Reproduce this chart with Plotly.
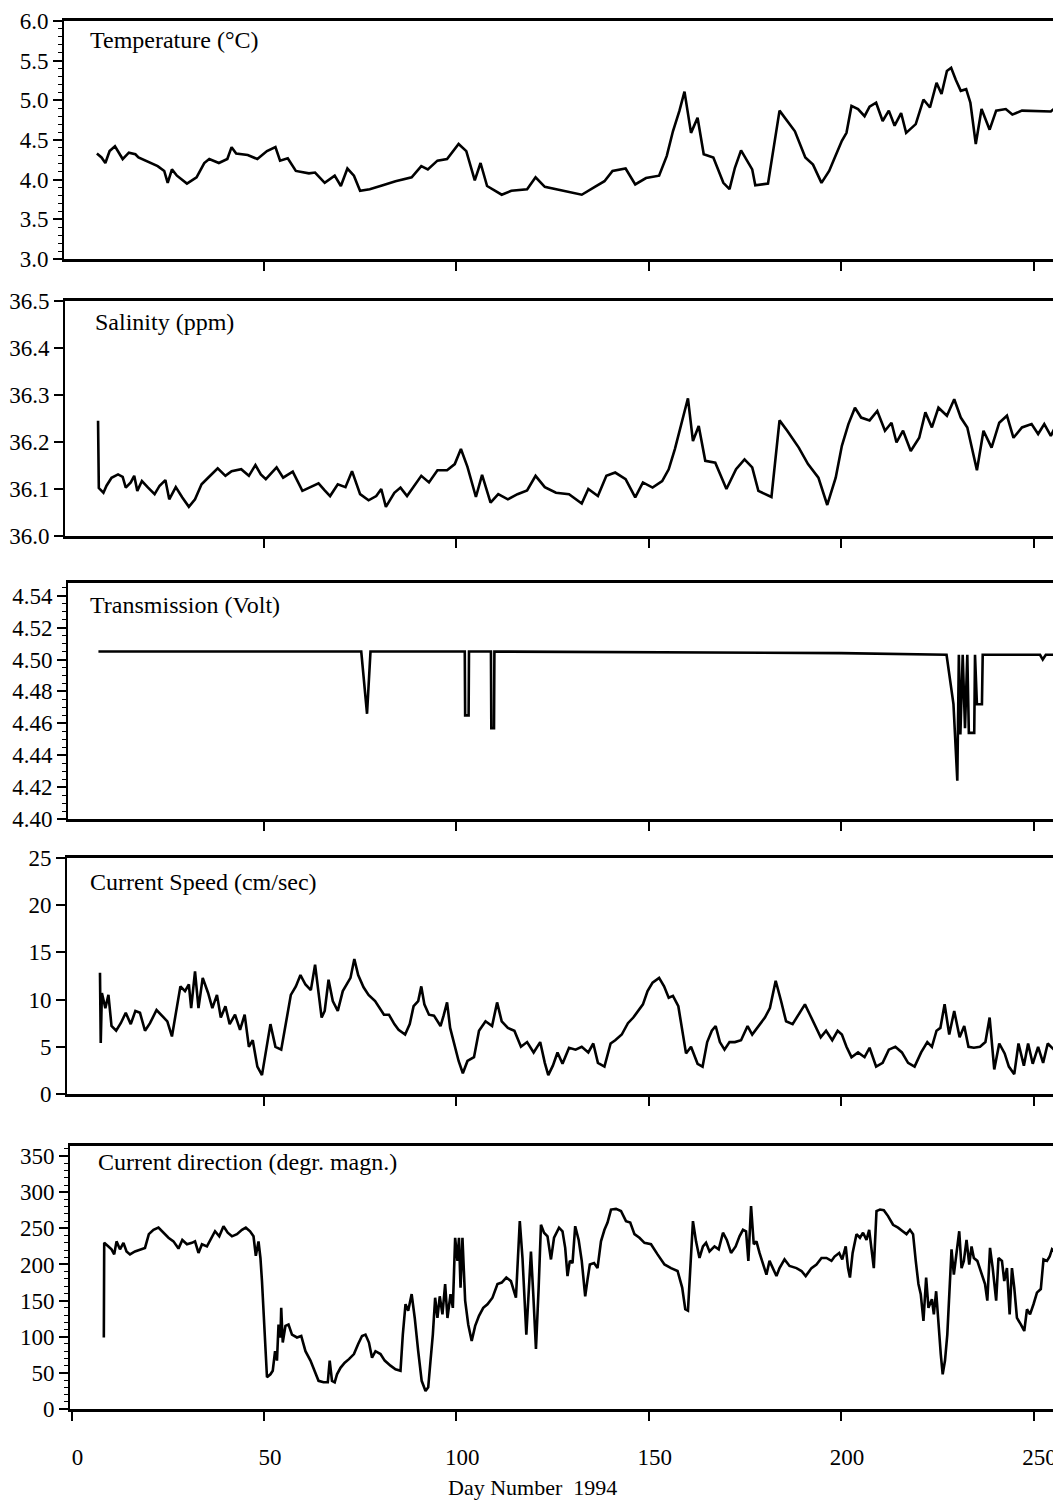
"""
Mooring record 1994: temperature, salinity, transmission, current speed and direction
against day number, five stacked panels sharing the same day scale.
"""

import plotly.graph_objects as go

# ---- data ---------------------------------------------------------------------
temp_day = [6.6, 7.8, 8.8, 9.9, 11.3, 13.3, 14.9, 16.6, 17.4, 19.1, 22.4, 24.1, 25.0, 26.1,
            27.4, 30.0, 32.5, 34.5, 35.8, 38.3, 40.5, 41.6, 42.8, 45.8, 48.3, 50.8, 53.0,
            54.2, 56.2, 58.3, 61.7, 63.3, 65.8, 68.4, 70.0, 71.7, 73.4, 75.0, 77.5, 80.9,
            84.2, 88.4, 90.9, 92.6, 95.1, 97.6, 100.6, 102.6, 104.8, 106.3, 108.0, 111.8,
            114.3, 118.4, 120.6, 123.0, 127.6, 132.6, 136.0, 138.5, 140.6, 144.0, 146.5,
            149.3, 152.7, 154.7, 156.3, 158.0, 159.3, 161.0, 162.7, 164.3, 166.8, 169.4,
            171.0, 172.4, 174.0, 176.9, 177.7, 181.0, 184.0, 186.0, 188.0, 190.7, 192.7,
            194.9, 196.9, 198.2, 200.2, 201.4, 202.7, 204.4, 206.1, 207.4, 209.1, 210.8,
            212.4, 213.9, 215.6, 216.9, 219.4, 221.4, 223.1, 224.8, 226.1, 227.5, 228.6,
            229.8, 231.1, 232.5, 233.6, 235.0, 236.5, 238.6, 240.3, 242.8, 244.5, 247.0,
            251.2, 254.5, 256.2]
temp_val = [4.33, 4.28, 4.21, 4.36, 4.42, 4.26, 4.34, 4.32, 4.28, 4.24, 4.17, 4.11, 3.96, 4.13,
            4.05, 3.95, 4.03, 4.21, 4.26, 4.21, 4.26, 4.41, 4.33, 4.31, 4.26, 4.36, 4.41,
            4.24, 4.27, 4.11, 4.08, 4.09, 3.96, 4.05, 3.92, 4.14, 4.05, 3.86, 3.88, 3.93,
            3.98, 4.03, 4.17, 4.13, 4.24, 4.26, 4.45, 4.36, 3.99, 4.21, 3.92, 3.81,
            3.86, 3.88, 4.03, 3.91, 3.86, 3.81, 3.91, 3.98, 4.11, 4.14, 3.94,
            4.02, 4.05, 4.30, 4.61, 4.87, 5.11, 4.59, 4.78, 4.32, 4.28, 3.96,
            3.88, 4.15, 4.37, 4.13, 3.93, 3.95, 4.87, 4.74, 4.61, 4.28, 4.19,
            3.96, 4.11, 4.26, 4.49, 4.59, 4.93, 4.89, 4.80, 4.92, 4.97, 4.74,
            4.87, 4.68, 4.84, 4.59, 4.70, 5.01, 4.91, 5.22, 5.08, 5.37, 5.41,
            5.26, 5.12, 5.14, 4.97, 4.45, 4.89, 4.63, 4.87, 4.89, 4.82, 4.87,
            4.86, 4.86, 4.93]

sal_day = [6.9, 7.1, 8.3, 9.1, 10.4, 12.1, 13.3, 14.1, 15.4, 16.3, 17.1, 18.3, 19.9, 21.6,
           22.9, 24.4, 25.4, 27.1, 28.8, 30.5, 32.1, 33.8, 35.5, 38.0, 40.0, 41.6, 44.1,
           46.1, 47.8, 49.2, 50.5, 53.3, 55.0, 57.5, 60.0, 62.2, 64.2, 65.8, 67.2, 69.2,
           71.2, 72.9, 75.0, 77.2, 79.2, 80.5, 81.7, 83.9, 85.5, 87.2, 88.9, 90.9, 92.9,
           95.1, 97.6, 99.6, 101.2, 102.9, 105.1, 106.7, 108.9, 110.9, 113.4, 115.9,
           118.4, 120.6, 123.0, 125.9, 129.3, 132.6, 134.3, 136.8, 139.0, 141.3, 144.0,
           146.5, 148.5, 151.0, 153.5, 155.2, 156.8, 158.5, 160.2, 161.5, 163.0, 164.7,
           167.3, 170.2, 172.7, 174.9, 176.9, 178.5, 181.9, 184.0, 186.0, 189.0, 191.4,
           194.1, 196.4, 198.6, 200.2, 201.9, 203.6, 205.2, 207.4, 209.4, 211.4, 213.1,
           214.4, 216.1, 218.1, 220.3, 221.9, 223.6, 225.3, 227.5, 229.4, 231.1, 232.8,
           235.3, 237.0, 239.1, 241.1, 243.1, 244.8, 247.0, 249.5, 251.2, 252.8, 254.5,
           256.2]
sal_val = [36.245, 36.102, 36.092, 36.107, 36.124, 36.131, 36.126, 36.103, 36.114, 36.128,
           36.096, 36.117, 36.103, 36.089, 36.107, 36.119, 36.078, 36.104, 36.082, 36.062,
           36.078, 36.110, 36.124, 36.144, 36.128, 36.138, 36.142, 36.128, 36.151, 36.131,
           36.121, 36.146, 36.124, 36.137, 36.096, 36.104, 36.112, 36.097, 36.085, 36.110,
           36.104, 36.138, 36.089, 36.076, 36.085, 36.100, 36.062, 36.092, 36.103, 36.085,
           36.104, 36.128, 36.114, 36.140, 36.140, 36.153, 36.185, 36.147, 36.083, 36.130,
           36.071, 36.089, 36.078, 36.089, 36.097, 36.128, 36.104, 36.092, 36.089, 36.069,
           36.100, 36.085, 36.128, 36.135, 36.121, 36.082, 36.114, 36.103, 36.117, 36.142,
           36.185, 36.241, 36.293, 36.202, 36.234, 36.160, 36.156, 36.100, 36.142, 36.163,
           36.146, 36.096, 36.083, 36.246, 36.224, 36.188, 36.153, 36.124, 36.066, 36.124,
           36.192, 36.238, 36.273, 36.252, 36.246, 36.266, 36.224, 36.241, 36.199, 36.224,
           36.181, 36.209, 36.263, 36.231, 36.273, 36.256, 36.291, 36.252, 36.231, 36.140,
           36.224, 36.188, 36.241, 36.256, 36.209, 36.231, 36.238, 36.217, 36.238, 36.213,
           36.241]

trans_day = [7.0, 75.3, 76.8, 77.7, 102.2, 102.3, 103.2, 103.3, 109.0, 109.1, 109.8, 109.9,
             200.0, 227.4, 229.2, 230.2, 230.6, 231.0, 231.6, 232.2, 232.8, 233.2, 234.6,
             234.8, 235.3, 236.6, 236.8, 251.7, 252.4, 253.2, 255.6]
trans_val = [4.505, 4.505, 4.466, 4.505, 4.505, 4.465, 4.465, 4.505, 4.505, 4.457, 4.457, 4.505,
             4.504, 4.503, 4.472, 4.424, 4.503, 4.453, 4.503, 4.457, 4.503, 4.454, 4.454,
             4.503, 4.472, 4.472, 4.503, 4.503, 4.500, 4.503, 4.503]

speed_day = [7.4, 7.6, 7.9, 8.8, 9.6, 10.4, 11.6, 12.8, 14.1, 15.4, 16.6, 17.8, 19.1, 20.4,
             22.1, 23.8, 24.9, 26.1, 27.4, 28.3, 29.5, 30.5, 31.1, 32.1, 33.0, 34.1, 35.5,
             36.6, 37.8, 38.8, 40.0, 41.1, 42.5, 43.8, 45.0, 46.1, 47.1, 48.3, 49.5, 50.5,
             51.7, 53.0, 54.5, 55.8, 57.0, 58.3, 59.5, 60.8, 62.2, 63.3, 64.2, 65.0, 65.8,
             66.8, 67.9, 69.2, 70.5, 71.7, 72.5, 73.5, 74.5, 75.9, 77.2, 78.9, 80.0, 81.2,
             82.5, 83.9, 85.0, 86.7, 87.9, 88.9, 90.1, 90.9, 91.7, 92.9, 94.2, 95.9, 96.7,
             97.6, 98.4, 99.2, 100.6, 101.7, 102.9, 104.6, 105.9, 107.6, 109.3, 110.6, 111.8,
             113.4, 115.1, 116.8, 118.4, 120.1, 121.8, 123.0, 123.9, 125.1, 126.3, 127.6,
             129.3, 131.0, 132.6, 134.3, 135.6, 136.8, 138.5, 140.1, 141.3, 143.0, 144.6,
             146.0, 147.3, 148.5, 149.7, 151.0, 152.7, 154.0, 155.2, 156.3, 157.7, 159.0,
             159.7, 161.0, 162.7, 164.0, 165.2, 166.4, 167.4, 168.5, 169.7, 171.0, 172.4,
             174.0, 175.7, 176.9, 178.5, 180.2, 181.5, 183.0, 184.4, 185.7, 187.4, 189.0,
             190.6, 191.9, 193.6, 194.7, 196.1, 197.7, 199.1, 200.2, 201.4, 202.7, 204.4,
             206.1, 207.4, 209.1, 210.8, 212.4, 214.1, 215.8, 217.4, 219.1, 220.8, 222.4,
             223.6, 224.8, 225.8, 226.9, 228.1, 229.4, 230.8, 232.0, 233.1, 234.5, 236.1,
             237.5, 238.6, 239.8, 241.1, 242.5, 243.6, 245.0, 246.1, 247.5, 248.6, 249.8,
             251.2, 252.5, 253.7, 255.3, 256.5]
speed_val = [12.85, 5.4, 10.7, 9.1, 10.5, 7.2, 6.7, 7.5, 8.6, 7.4, 8.8, 8.6, 6.7, 7.5,
             8.9, 8.1, 7.7, 6.1, 9.1, 11.4, 10.9, 11.6, 9.1, 13.0, 9.1, 12.3, 10.7,
             9.1, 10.5, 8.1, 9.3, 7.4, 8.4, 6.8, 8.4, 5.0, 5.7, 2.9, 2.0, 4.3,
             7.4, 5.0, 4.7, 7.7, 10.5, 11.4, 12.6, 11.6, 11.0, 13.7, 10.5, 8.1, 8.8,
             12.1, 9.85, 8.8, 10.9, 11.8, 12.3, 14.3, 12.6, 11.3, 10.5, 9.85, 9.1, 8.4,
             8.4, 7.4, 6.8, 6.3, 7.4, 9.3, 9.85, 11.4, 9.5, 8.4, 8.3, 7.2, 8.3,
             9.7, 7.0, 5.7, 3.5, 2.2, 3.5, 3.9, 6.7, 7.7, 7.2, 9.7, 7.7,
             7.0, 6.7, 5.0, 5.5, 4.4, 5.5, 3.3, 2.0, 3.0, 4.4, 3.2,
             4.9, 4.7, 5.0, 4.4, 5.35, 3.3, 2.9, 5.35, 5.7, 6.3, 7.5,
             8.1, 8.8, 9.5, 10.9, 11.8, 12.3, 11.4, 10.2, 10.4, 9.3, 6.0,
             4.3, 5.0, 3.2, 2.9, 5.5, 6.7, 7.2, 5.5, 4.7, 5.5, 5.5,
             5.7, 7.2, 6.3, 7.2, 8.1, 9.1, 12.0, 9.85, 7.7, 7.4, 8.4,
             9.5, 8.4, 7.0, 6.0, 6.7, 5.7, 6.7, 6.3, 5.0, 3.9, 4.4,
             3.9, 4.9, 2.9, 3.3, 4.7, 5.0, 4.4, 3.3, 2.9, 4.4, 5.5,
             5.0, 6.7, 7.0, 9.5, 6.3, 8.8, 6.0, 7.2, 5.0, 4.9, 5.0,
             5.5, 8.1, 2.6, 5.35, 4.3, 2.9, 2.1, 5.35, 3.0, 5.35, 3.2,
             5.0, 3.3, 5.35, 4.7, 5.0]

dir_day = [8.4, 8.5, 9.6, 10.4, 11.1, 11.7, 12.6, 13.5, 14.3, 15.2, 16.5, 17.8, 19.1, 20.1,
           21.3, 22.6, 23.9, 25.2, 26.5, 27.8, 28.8, 30.0, 31.3, 32.1, 33.0, 33.9, 35.2,
           36.3, 37.3, 38.4, 39.5, 40.6, 41.7, 43.0, 44.3, 45.3, 46.4, 47.3, 47.9, 48.6,
           49.1, 49.5, 50.2, 50.8, 51.7, 52.3, 52.9, 53.4, 53.8, 54.3, 54.5, 54.9, 55.6,
           56.4, 57.3, 58.6, 59.7, 60.8, 62.1, 63.2, 64.2, 65.5, 66.6, 67.1, 67.7, 68.4,
           69.0, 69.9, 71.0, 72.1, 73.4, 74.5, 75.5, 76.4, 77.3, 78.1, 79.0, 80.3, 81.4,
           82.9, 84.2, 85.5, 86.1, 86.8, 87.5, 88.4, 89.2, 90.1, 91.0, 92.0, 92.7, 93.3,
           93.9, 94.5, 95.1, 95.7, 96.4, 97.1, 97.7, 98.5, 99.1, 99.7, 100.3, 100.7, 101.1,
           101.6, 102.3, 103.1, 104.0, 104.9, 105.9, 107.0, 108.1, 109.4, 110.7, 111.8,
           113.0, 114.2, 115.5, 116.5, 117.2, 118.2, 118.8, 119.4, 120.0, 120.7, 121.4,
           122.0, 122.8, 123.7, 124.6, 125.4, 126.7, 127.6, 128.3, 128.9, 129.5, 130.2,
           130.9, 131.8, 132.6, 133.5, 134.1, 134.7, 135.8, 136.7, 137.6, 138.5, 139.3,
           140.2, 141.5, 142.8, 144.1, 145.2, 146.3, 147.6, 148.9, 150.6, 152.3, 154.1,
           155.8, 157.5, 158.7, 159.5, 160.2, 160.8, 161.5, 162.3, 163.2, 164.1, 164.9,
           165.8, 167.1, 168.2, 169.3, 170.3, 171.4, 172.6, 173.6, 174.5, 175.3, 175.9,
           176.6, 177.3, 178.0, 178.8, 179.7, 180.6, 181.4, 182.3, 183.2, 184.0, 185.3,
           186.6, 188.4, 189.7, 190.8, 192.3, 193.6, 194.9, 196.2, 197.5, 198.3, 199.5,
           200.3, 201.2, 201.8, 202.3, 203.0, 204.0, 204.9, 205.7, 206.6, 207.3, 207.9,
           208.5, 209.2, 210.1, 211.1, 212.2, 213.5, 214.8, 216.0, 217.0, 217.9, 218.7,
           219.4, 220.1, 220.7, 221.4, 222.1, 222.7, 223.6, 224.1, 224.7, 225.3, 225.9,
           226.4, 227.0, 227.6, 228.3, 228.7, 229.3, 230.0, 230.7, 231.3, 231.9, 232.6,
           233.3, 233.9, 234.5, 235.4, 236.6, 237.4, 238.0, 238.7, 239.4, 240.3, 240.9,
           241.8, 242.4, 243.1, 243.8, 244.4, 245.0, 245.7, 246.7, 247.6, 248.3, 249.1,
           250.0, 250.9, 251.9, 252.6, 253.5, 254.2, 254.8, 255.4, 256.1, 256.8, 257.4]
dir_val = [99, 230, 225, 221, 214, 232, 221, 230, 218, 214, 218, 221, 223, 242,
           248, 251, 244, 237, 232, 222, 234, 228, 230, 232, 216, 228, 225,
           237, 246, 239, 253, 244, 239, 242, 248, 251, 246, 239, 212, 232,
           209, 177, 113, 44, 48, 53, 80, 67, 117, 99, 140, 92, 115,
           117, 103, 99, 101, 80, 67, 53, 39, 37, 37, 67, 39, 37,
           48, 57, 64, 69, 76, 90, 101, 103, 92, 71, 80, 76, 67,
           60, 55, 53, 103, 145, 136, 159, 126, 80, 39, 25, 30, 67,
           103, 154, 126, 156, 131, 173, 126, 159, 140, 237, 205, 237, 168,
           237, 150, 117, 94, 115, 129, 140, 145, 154, 173, 175,
           182, 177, 154, 260, 209, 103, 168, 218, 159, 83, 168,
           255, 244, 239, 207, 237, 251, 246, 223, 184, 205, 202,
           253, 234, 205, 156, 179, 200, 202, 195, 232, 248, 258,
           276, 277, 274, 260, 258, 242, 237, 230, 228, 214, 200,
           195, 191, 168, 138, 136, 191, 260, 232, 209, 225, 230,
           218, 225, 221, 244, 234, 216, 225, 239, 248, 246, 205,
           281, 228, 232, 216, 200, 186, 205, 195, 184, 195, 207,
           198, 195, 191, 184, 195, 200, 209, 209, 205, 211, 216,
           207, 225, 195, 182, 216, 242, 237, 244, 234, 248, 223,
           195, 274, 276, 275, 267, 255, 251, 246, 242, 248, 242,
           205, 173, 159, 122, 182, 140, 152, 131, 163, 113, 76,
           48, 67, 103, 173, 221, 186, 214, 246, 195, 205, 234,
           200, 225, 209, 205, 184, 173, 150, 223, 195, 150, 209,
           205, 177, 195, 131, 195, 168, 126, 117, 108, 138, 131,
           145, 161, 166, 207, 205, 211, 221, 218, 205, 150, 92]

panel_labels = ["Temperature (°C)", "Salinity (ppm)", "Transmission (Volt)",
                "Current Speed (cm/sec)", "Current direction (degr. magn.)"]
x_ticks = [0, 50, 100, 150, 200, 250]

# ---- layout: positions measured on the 1061 x 1507 screenshot ------------------
# the page body keeps its 8 px margin, so the figure itself starts at (8, 8)
OFF = 8
SCREEN_W, SCREEN_H = 1061, 1507
W, H = SCREEN_W - OFF, SCREEN_H - OFF
X0_PX, PX_PER_DAY = 71.5, 3.848          # screen x of day 0, px per day


def fx(px):
    """screen x -> paper fraction"""
    return (px - OFF) / W


def fy(py):
    """screen y -> paper fraction"""
    return 1 - (py - OFF) / H


panels = [
    # x, y, top px, bottom px, y range, dtick, minor dtick, format, axis-left px, label px
    (temp_day, temp_val, 21, 259, [3.0, 6.0], 0.5, 0.1, ".1f", 64, (88, 40)),
    (sal_day, sal_val, 301, 536, [36.0, 36.5], 0.1, None, ".1f", 65, (93, 322)),
    (trans_day, trans_val, 583, 819, [4.40, 4.548], 0.02, 0.005, ".2f", 68, (88, 605)),
    (speed_day, speed_val, 858, 1094, [0, 25], 5, None, "d", 67, (88, 882)),
    (dir_day, dir_val, 1146, 1409, [0, 364], 50, 10, "d", 70, (96, 1162)),
]

font_family = "Liberation Serif, Times New Roman, serif"

fig = go.Figure()
layout = {}
annotations = []

for i, (xs, ys, top, bot, yr, dt, mdt, fmt, left, lab) in enumerate(panels, start=1):
    xa = "x" if i == 1 else f"x{i}"
    ya = "y" if i == 1 else f"y{i}"
    fig.add_trace(go.Scatter(x=xs, y=ys, mode="lines", xaxis=xa, yaxis=ya,
                             line=dict(color="black", width=2.6), showlegend=False))

    x_lo = (left - X0_PX) / PX_PER_DAY
    x_hi = (SCREEN_W - X0_PX) / PX_PER_DAY
    last = i == len(panels)
    layout["xaxis" if i == 1 else f"xaxis{i}"] = dict(
        domain=[fx(left), 1.0], range=[x_lo, x_hi], anchor=ya, automargin=False,
        showline=True, linecolor="black", linewidth=3, mirror=True,
        showgrid=False, zeroline=False,
        tickmode="array", tickvals=x_ticks if last else x_ticks[1:],
        ticks="outside", ticklen=9, tickwidth=1.5, tickcolor="black",
        showticklabels=last, ticklabelstandoff=16, ticklabelshift=6,
        ticklabeloverflow="allow",
        tickfont=dict(family=font_family, size=23, color="black"),
    )
    yaxis = dict(
        domain=[fy(bot), fy(top)], range=yr, anchor=xa, automargin=False,
        showline=True, linecolor="black", linewidth=2,
        showgrid=False, zeroline=False,
        tick0=yr[0], dtick=dt, tickformat=fmt,
        ticks="outside", ticklen=9, tickwidth=1.5, tickcolor="black",
        ticklabeloverflow="allow",
        tickfont=dict(family=font_family, size=23, color="black"),
    )
    if mdt:
        yaxis["minor"] = dict(ticks="outside", ticklen=4, tickwidth=1, tickcolor="black", dtick=mdt)
    layout["yaxis" if i == 1 else f"yaxis{i}"] = yaxis

    annotations.append(dict(
        text=panel_labels[i - 1], xref="paper", yref="paper",
        x=fx(lab[0]), y=fy(lab[1]), xanchor="left", yanchor="middle",
        showarrow=False, font=dict(family=font_family, size=24, color="black"),
    ))

annotations.append(dict(
    text="Day Number\u00a0\u00a01994", xref="paper", yref="paper",
    x=fx(532), y=fy(1487), xanchor="center", yanchor="middle",
    showarrow=False, font=dict(family=font_family, size=22, color="black"),
))

fig.update_layout(
    **layout,
    annotations=annotations,
    width=W, height=H, autosize=False,
    margin=dict(l=0, r=0, t=0, b=0, autoexpand=False),
    paper_bgcolor="white", plot_bgcolor="white",
    font=dict(family=font_family, color="black"),
)

fig.write_html("out.html")
